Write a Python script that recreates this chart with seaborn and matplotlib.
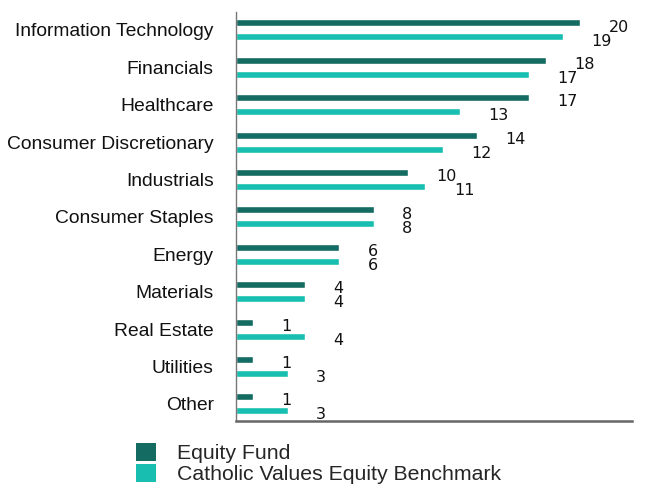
import matplotlib
matplotlib.use("Agg")
import matplotlib.pyplot as plt
import seaborn as sns
import pandas as pd
from matplotlib.patches import Patch

categories = ["Information Technology", "Financials", "Healthcare", "Consumer Discretionary",
              "Industrials", "Consumer Staples", "Energy", "Materials", "Real Estate",
              "Utilities", "Other"]
fund_values = [20, 18, 17, 14, 10, 8, 6, 4, 1, 1, 1]
bench_values = [19, 17, 13, 12, 11, 8, 6, 4, 4, 3, 3]
series_names = ["Equity Fund", "Catholic Values Equity Benchmark"]
colors = ["#146b62", "#18bfb0"]

df = pd.DataFrame({
    "Category": categories * 2,
    "Value": fund_values + bench_values,
    "Series": [series_names[0]] * len(categories) + [series_names[1]] * len(categories),
})

sns.set_style("white")
plt.rcParams["font.family"] = ["Liberation Sans", "DejaVu Sans"]

fig = plt.figure(figsize=(6.46, 4.87), dpi=100)
ax = fig.add_axes([236 / 646, 1 - 421 / 487, (632 - 236) / 646, (421 - 12) / 487])

sns.barplot(data=df, y="Category", x="Value", hue="Series", orient="h",
            palette=colors, saturation=1, width=0.75, gap=0.5, ax=ax, legend=False,
            order=categories, hue_order=series_names)

ax.set_xlim(0, 23)
ax.set_ylim(len(categories) - 1 + 0.46, -0.48)
ax.set_xlabel("")
ax.set_ylabel("")
ax.set_xticks([])
ax.tick_params(axis="y", length=0, pad=16, labelsize=13.9, labelcolor="#111111")

for s in ["top", "right"]:
    ax.spines[s].set_visible(False)
ax.spines["left"].set_color("#777777")
ax.spines["left"].set_linewidth(1.0)
ax.spines["bottom"].set_color("#666666")
ax.spines["bottom"].set_linewidth(1.8)

for cont in ax.containers:
    for patch in cont.patches:
        w = patch.get_width()
        yc = patch.get_y() + patch.get_height() / 2
        ax.annotate(f"{w:g}", xy=(w, yc), xytext=(20.5, -3), textcoords="offset points",
                    ha="left", va="center", fontsize=11.5, family="DejaVu Sans",
                    color="#111111")

handles = [Patch(facecolor=c, edgecolor="none") for c in colors]
fig.legend(handles, series_names, loc="upper left", bbox_to_anchor=(136 / 646, 1 - 443 / 487),
           frameon=False, fontsize=15.3, handlelength=0.95, handleheight=0.95,
           labelspacing=0.02, handletextpad=1.0, borderaxespad=0, borderpad=0)

fig.savefig("out.png", dpi=100)
